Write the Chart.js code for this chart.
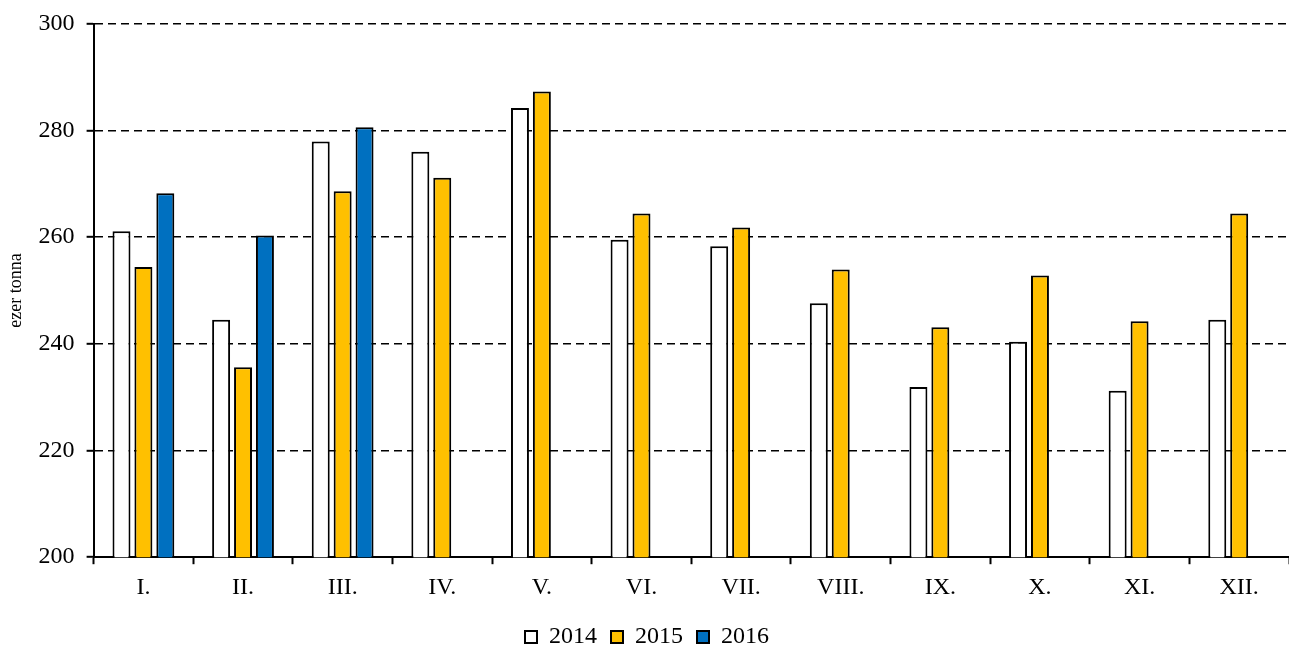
<!DOCTYPE html>
<html>
<head>
<meta charset="utf-8">
<script src="https://cdn.jsdelivr.net/npm/chart.js@4"></script>
<style>
    html, body { margin: 0; padding: 0; background: #fff; }
    #wrap { width: 1289px; height: 649px; position: relative; }
</style>
</head>
<body>
<div id="wrap"><canvas id="chart"></canvas></div>
<script>
const months = ['I.', 'II.', 'III.', 'IV.', 'V.', 'VI.', 'VII.', 'VIII.', 'IX.', 'X.', 'XI.', 'XII.'];
const y2014 = [261.1, 244.5, 277.9, 276.0, 284.2, 259.5, 258.3, 247.6, 231.9, 240.4, 231.2, 244.5];
const y2015 = [254.4, 235.6, 268.6, 271.1, 287.3, 264.4, 261.8, 253.9, 243.1, 252.8, 244.2, 264.4];
const y2016 = [268.2, 260.3, 280.6, null, null, null, null, null, null, null, null, null];
const yTicks = [200, 220, 240, 260, 280, 300];

const serif = '"Liberation Serif", "Times New Roman", serif';

function bars(label, data, fill) {
    return {
        label,
        data,
        backgroundColor: fill,
        borderColor: '#000',
        borderWidth: 2,
        categoryPercentage: 0.66,
        barPercentage: 0.82
    };
}

new Chart(document.getElementById('chart'), {
    type: 'bar',
    data: {
        labels: months,
        datasets: [
            bars('2014', y2014, '#ffffff'),
            bars('2015', y2015, '#ffc000'),
            bars('2016', y2016, '#0070c0')
        ]
    },
    options: {
        responsive: true,
        maintainAspectRatio: false,
        animation: false,
        layout: { padding: { top: 0, right: 0, left: 5, bottom: -10 } },
        plugins: {
            tooltip: { enabled: false },
            legend: {
                position: 'bottom',
                labels: {
                    color: '#000',
                    font: { family: serif, size: 24 },
                    boxWidth: 12,
                    boxHeight: 12,
                    padding: 14
                }
            }
        },
        scales: {
            x: {
                grid: {
                    display: true,
                    offset: true,
                    drawOnChartArea: false,
                    drawTicks: true,
                    tickLength: 7,
                    tickColor: '#000',
                    tickWidth: 2
                },
                border: { display: true, color: '#000', width: 2 },
                ticks: {
                    color: '#000',
                    font: { family: serif, size: 24 },
                    padding: 9,
                    maxRotation: 0
                }
            },
            y: {
                min: 200,
                max: 300,
                afterBuildTicks: scale => {
                    scale.ticks = yTicks.map(v => ({ value: v }));
                },
                grid: {
                    color: '#000',
                    lineWidth: 1.6,
                    drawTicks: true,
                    tickLength: 7,
                    tickColor: '#000',
                    tickWidth: 2,
                    tickBorderDash: []
                },
                border: { display: true, color: '#000', width: 2, dash: [8, 5] },
                ticks: {
                    color: '#000',
                    font: { family: serif, size: 24, lineHeight: 0.97 },
                    padding: 12
                },
                title: {
                    display: true,
                    text: 'ezer tonna',
                    color: '#000',
                    font: { family: serif, size: 18 },
                    padding: { top: 0, bottom: 0 }
                }
            }
        }
    }
});
</script>
</body>
</html>
